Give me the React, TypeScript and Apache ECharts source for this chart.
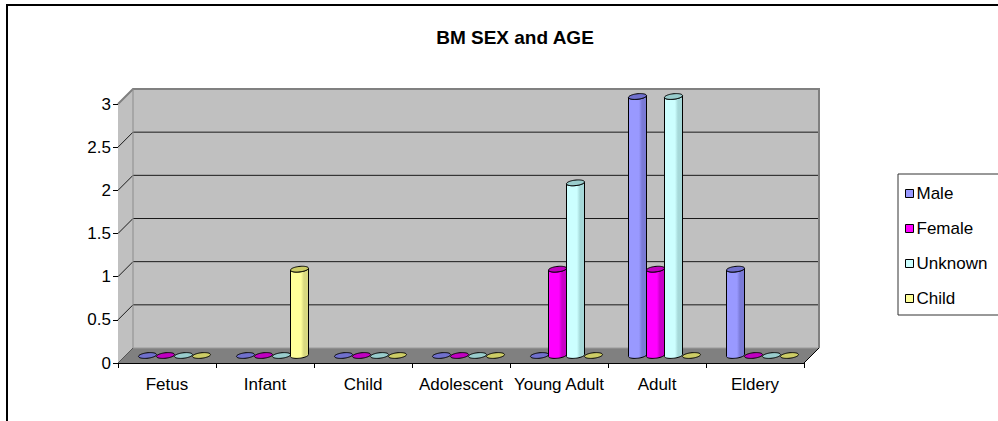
import React, { useEffect, useRef } from "react";
import * as echarts from "echarts";

const categories = ["Fetus", "Infant", "Child", "Adolescent", "Young Adult", "Adult", "Eldery"];
const seriesNames = ["Male", "Female", "Unknown", "Child"];
const male = [0, 0, 0, 0, 0, 3, 1];
const female = [0, 0, 0, 0, 1, 1, 0];
const unknown = [0, 0, 0, 0, 2, 3, 0];
const childCases = [0, 1, 0, 0, 0, 0, 0];
const seriesValues = [male, female, unknown, childCases];

const yMin = 0;
const yMax = 3;
const yStep = 0.5;

const bodyColors = ["#9999FF", "#FF00FF", "#CCFFFF", "#FFFF99"];
const shadeColors = ["#7A7AD6", "#C800C8", "#A6D9D9", "#D9D980"];
const capColors = ["#7070CC", "#C000C0", "#99CCCC", "#CCCC66"];

// oblique depth of the plot box (back wall offset)
const DX = 15;
const DY = -15;
// cylinder width as share of a category band, and ellipse flattening
const CYL_SHARE = 18 / 98;
const TILT = 0.34;

const FONT = "'Liberation Sans', Arial, sans-serif";

function wallsItem(params: any, api: any) {
  const cs = params.coordSys;
  const x0 = cs.x;
  const x1 = cs.x + cs.width;
  const yb = api.coord([0, yMin])[1];
  const yt = api.coord([0, yMax])[1];
  const children: any[] = [];
  children.push({
    type: "polygon",
    shape: { points: [[x0, yt], [x0 + DX, yt + DY], [x0 + DX, yb + DY], [x0, yb]] },
    style: { fill: "#C0C0C0" },
  });
  children.push({
    type: "rect",
    shape: { x: x0 + DX, y: yt + DY, width: x1 - x0, height: yb - yt },
    style: { fill: "#C0C0C0" },
  });
  children.push({
    type: "polygon",
    shape: { points: [[x0, yb], [x1, yb], [x1 + DX, yb + DY], [x0 + DX, yb + DY]] },
    style: { fill: "#808080" },
  });
  for (let v = yMin + yStep; v < yMax - 1e-9; v += yStep) {
    const y = api.coord([0, v])[1];
    children.push({
      type: "polyline",
      shape: { points: [[x0, y], [x0 + DX, y + DY], [x1 + DX, y + DY]] },
      style: { stroke: "#1a1a1a", lineWidth: 1, fill: null },
    });
  }
  children.push({
    type: "polyline",
    shape: { points: [[x0, yt], [x0 + DX, yt + DY], [x1 + DX, yt + DY], [x1 + DX, yb + DY]] },
    style: { stroke: "#808080", lineWidth: 2, fill: null },
  });
  children.push({
    type: "line",
    shape: { x1: x0 + DX, y1: yt + DY, x2: x0 + DX, y2: yb + DY },
    style: { stroke: "#8c8c8c", lineWidth: 1 },
  });
  children.push({
    type: "line",
    shape: { x1: x0 + DX, y1: yb + DY, x2: x1 + DX, y2: yb + DY },
    style: { stroke: "#9a9a9a", lineWidth: 1 },
  });
  children.push({
    type: "line",
    shape: { x1: x0, y1: yb, x2: x0 + DX, y2: yb + DY },
    style: { stroke: "#555", lineWidth: 1 },
  });
  children.push({
    type: "line",
    shape: { x1: x1, y1: yb, x2: x1 + DX, y2: yb + DY },
    style: { stroke: "#000", lineWidth: 1 },
  });
  return { type: "group", children };
}

function cylinderItem(s: number) {
  return (params: any, api: any) => {
    const idx = api.value(0);
    const v = api.value(1);
    const base = api.coord([idx, 0]);
    const top = api.coord([idx, v]);
    const band = api.size([1, 0])[0];
    const w = band * CYL_SHARE;
    const cx = base[0] - 2 * w + w * (s + 0.5) + DX / 2;
    const yB = base[1] + DY / 2;
    const yT = top[1] + DY / 2;
    const R = w / 2;
    const r = R / Math.sqrt(1 + TILT * TILT);
    const pt = (t: number, cy: number) => [cx + r * Math.cos(t) + TILT * r * Math.sin(t), cy - TILT * r * Math.sin(t)];
    const tR = Math.atan(TILT);
    const N = 24;
    const children: any[] = [];
    if (yB - yT > 0.5) {
      const pts: number[][] = [];
      for (let i = 0; i <= N; i++) pts.push(pt(tR - Math.PI + (Math.PI * i) / N, yT));
      for (let i = 0; i <= N; i++) pts.push(pt(tR - (Math.PI * i) / N, yB));
      children.push({
        type: "polygon",
        shape: { points: pts },
        style: {
          fill: new echarts.graphic.LinearGradient(0, 0, 1, 0, [
            { offset: 0, color: bodyColors[s] },
            { offset: 0.58, color: bodyColors[s] },
            { offset: 0.75, color: shadeColors[s] },
            { offset: 1, color: shadeColors[s] },
          ]),
          stroke: "#000",
          lineWidth: 1,
        },
      });
    }
    const cap: number[][] = [];
    for (let i = 0; i < 2 * N; i++) cap.push(pt((Math.PI * i) / N, yT));
    children.push({
      type: "polygon",
      shape: { points: cap },
      style: { fill: capColors[s], stroke: "#000", lineWidth: 1 },
    });
    return { type: "group", children };
  };
}

export default function App() {
  const ref = useRef<HTMLDivElement>(null);
  useEffect(() => {
    if (!ref.current) return;
    const chart = echarts.init(ref.current, undefined, { renderer: "svg" });
    const option: any = {
      animation: false,
      backgroundColor: "#fff",
      title: {
        text: "BM SEX and AGE",
        left: 510,
        top: 23,
        textAlign: "center",
        textStyle: { fontFamily: FONT, fontSize: 19, fontWeight: "bold", color: "#000" },
      },
      legend: {
        data: seriesNames,
        orient: "vertical",
        left: 898,
        top: 174,
        icon: "rect",
        itemWidth: 8,
        itemHeight: 8,
        itemGap: 18,
        padding: [11, 40, 8, 7],
        borderColor: "#333",
        borderWidth: 1,
        itemStyle: { borderColor: "#000", borderWidth: 1 },
        textStyle: { fontFamily: FONT, fontSize: 17, lineHeight: 17, color: "#000", padding: [0, 0, 0, -2] },
      },
      grid: { left: 118, right: 194, top: 104, bottom: 58 },
      xAxis: {
        type: "category",
        data: categories,
        axisLine: { lineStyle: { color: "#000", width: 1 } },
        axisTick: { show: true, length: 5, lineStyle: { color: "#000" } },
        axisLabel: { fontFamily: FONT, fontSize: 17, color: "#000", margin: 13, interval: 0 },
        splitLine: { show: false },
      },
      yAxis: {
        type: "value",
        min: yMin,
        max: yMax,
        interval: yStep,
        axisLine: { show: true, lineStyle: { color: "#000", width: 1 } },
        axisTick: { show: true, length: 5, lineStyle: { color: "#000" } },
        axisLabel: { fontFamily: FONT, fontSize: 17, color: "#000", margin: 7 },
        splitLine: { show: false },
      },
      graphic: [
        {
          type: "rect",
          shape: { x: 7, y: 5, width: 1100, height: 500 },
          style: { fill: null, stroke: "#000", lineWidth: 2 },
          silent: true,
        },
      ],
      series: [
        {
          type: "custom",
          name: "walls",
          renderItem: wallsItem,
          data: [[0, 0]],
          clip: false,
          silent: true,
          z: 1,
        },
        ...seriesNames.map((name, s) => ({
          type: "custom",
          name,
          renderItem: cylinderItem(s),
          data: seriesValues[s].map((v, i) => [i, v]),
          itemStyle: { color: bodyColors[s] },
          clip: false,
          z: 2,
        })),
      ],
    };
    chart.setOption(option);
    return () => chart.dispose();
  }, []);
  return <div ref={ref} style={{ position: "fixed", left: 0, top: 0, width: 998, height: 421 }} />;
}
